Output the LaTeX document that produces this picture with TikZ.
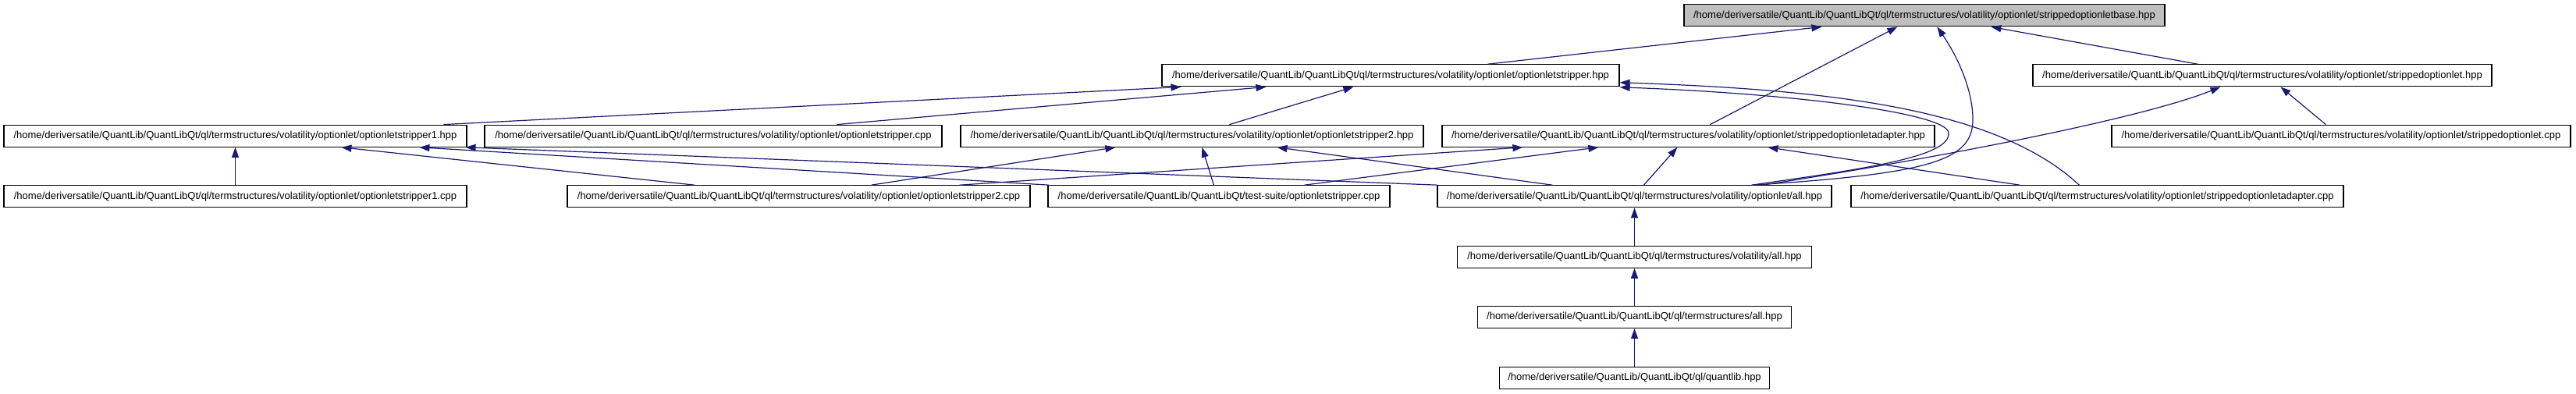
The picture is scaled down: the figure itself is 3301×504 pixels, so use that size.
\documentclass[tikz,border=0pt]{standalone}
\usepackage{fontspec}
\setmainfont{Liberation Sans}
\usetikzlibrary{arrows.meta}
\definecolor{edgeblue}{HTML}{191970}
\definecolor{focusgray}{HTML}{BFBFBF}
\begin{document}
\begin{tikzpicture}[x=1pt,y=-1pt,
  file/.style={draw=black, line width=1.2pt, fill=white, minimum height=28pt, inner sep=0pt, font=\fontsize{13}{15}\selectfont},
  focus/.style={file, fill=focusgray},
  dep/.style={draw=edgeblue, line width=1.2pt, -{Triangle[length=13pt,width=9pt,fill=edgeblue]}}
]
\useasboundingbox (0,0) rectangle (3301,504);

% row 1
\node[focus, minimum width=616pt] (base) at (2466,19.8) {/home/deriversatile/QuantLib/QuantLibQt/ql/termstructures/volatility/optionlet/strippedoptionletbase.hpp};
% row 2
\node[file, minimum width=586pt] (osHpp) at (1782,96.8) {/home/deriversatile/QuantLib/QuantLibQt/ql/termstructures/volatility/optionlet/optionletstripper.hpp};
\node[file, minimum width=588pt] (sHpp) at (2899,96.8) {/home/deriversatile/QuantLib/QuantLibQt/ql/termstructures/volatility/optionlet/strippedoptionlet.hpp};
% row 3
\node[file, minimum width=593pt] (opt1Hpp) at (301.5,174.2) {/home/deriversatile/QuantLib/QuantLibQt/ql/termstructures/volatility/optionlet/optionletstripper1.hpp};
\node[file, minimum width=586pt] (osCpp) at (914,174.2) {/home/deriversatile/QuantLib/QuantLibQt/ql/termstructures/volatility/optionlet/optionletstripper.cpp};
\node[file, minimum width=593pt] (opt2Hpp) at (1527.5,174.2) {/home/deriversatile/QuantLib/QuantLibQt/ql/termstructures/volatility/optionlet/optionletstripper2.hpp};
\node[file, minimum width=631pt] (adHpp) at (2163.5,174.2) {/home/deriversatile/QuantLib/QuantLibQt/ql/termstructures/volatility/optionlet/strippedoptionletadapter.hpp};
\node[file, minimum width=588pt] (sCpp) at (3000,174.2) {/home/deriversatile/QuantLib/QuantLibQt/ql/termstructures/volatility/optionlet/strippedoptionlet.cpp};
% row 4
\node[file, minimum width=593pt] (opt1Cpp) at (301.5,251.8) {/home/deriversatile/QuantLib/QuantLibQt/ql/termstructures/volatility/optionlet/optionletstripper1.cpp};
\node[file, minimum width=593pt] (opt2Cpp) at (1023.5,251.8) {/home/deriversatile/QuantLib/QuantLibQt/ql/termstructures/volatility/optionlet/optionletstripper2.cpp};
\node[file, minimum width=438pt] (test) at (1562,251.8) {/home/deriversatile/QuantLib/QuantLibQt/test-suite/optionletstripper.cpp};
\node[file, minimum width=505pt] (allOpt) at (2094.5,251.8) {/home/deriversatile/QuantLib/QuantLibQt/ql/termstructures/volatility/optionlet/all.hpp};
\node[file, minimum width=631pt] (adCpp) at (2687.5,251.8) {/home/deriversatile/QuantLib/QuantLibQt/ql/termstructures/volatility/optionlet/strippedoptionletadapter.cpp};
% rows 5-7
\node[file, minimum width=454pt] (volAll) at (2094.5,329.2) {/home/deriversatile/QuantLib/QuantLibQt/ql/termstructures/volatility/all.hpp};
\node[file, minimum width=402pt] (tsAll) at (2094.5,406.5) {/home/deriversatile/QuantLib/QuantLibQt/ql/termstructures/all.hpp};
\node[file, minimum width=346pt] (ql) at (2094.5,484.2) {/home/deriversatile/QuantLib/QuantLibQt/ql/quantlib.hpp};

% edges to base
\draw[dep] ([xshift=418pt]osHpp.north west) -- ([xshift=177pt]base.south west);
\draw[dep] ([xshift=344pt]adHpp.north west) -- ([xshift=274pt]base.south west);
\draw[dep] ([xshift=405pt]allOpt.north west) .. controls (2480,222) and (2530,205) .. (2528,150)
   .. controls (2527,115) and (2510,75) .. ([xshift=325pt]base.south west);
\draw[dep] ([xshift=212pt]sHpp.north west) -- ([xshift=394pt]base.south west);

% edges to optionletstripper.hpp
\draw[dep] ([xshift=564pt]opt1Hpp.north west) -- ([xshift=25pt]osHpp.south west);
\draw[dep] ([xshift=452pt]osCpp.north west) -- ([xshift=134pt]osHpp.south west);
\draw[dep] ([xshift=345pt]opt2Hpp.north west) -- ([xshift=246pt]osHpp.south west);
\draw[dep] ([xshift=403pt]allOpt.north west) .. controls (2400,215) and (2500,200) .. (2497,170)
   .. controls (2494,145) and (2300,120) .. ([yshift=-15pt]osHpp.east);
\draw[dep] ([xshift=293pt]adCpp.north west) .. controls (2560,140) and (2350,115) .. ([yshift=-9pt]osHpp.east);

% edges to strippedoptionlet.hpp
\draw[dep] ([xshift=417pt]allOpt.north west) .. controls (2500,200) and (2750,150) .. ([xshift=241pt]sHpp.south west);
\draw[dep] ([xshift=275pt]sCpp.north west) -- ([xshift=318pt]sHpp.south west);

% edges to strippedoptionletadapter.hpp
\draw[dep] ([xshift=217pt]adCpp.north west) -- ([xshift=418pt]adHpp.south west);
\draw[dep] ([xshift=503pt]opt2Cpp.north west) -- ([xshift=104pt]adHpp.south west);
\draw[dep] ([xshift=329pt]test.north west) -- ([xshift=201pt]adHpp.south west);
\draw[dep] ([xshift=265pt]allOpt.north west) -- ([xshift=302pt]adHpp.south west);

% edges to optionletstripper1.hpp
\draw[dep] (opt1Cpp.north) -- (opt1Hpp.south);
\draw[dep] ([xshift=164pt]opt2Cpp.north west) -- ([xshift=433pt]opt1Hpp.south west);
\draw[dep] ([xshift=2pt]test.north west) -- ([xshift=533pt]opt1Hpp.south west);
\draw[dep] ([xshift=1pt]allOpt.north west) -- ([xshift=-2pt]opt1Hpp.south east);

% edges to optionletstripper2.hpp
\draw[dep] ([xshift=390pt]opt2Cpp.north west) -- ([xshift=199pt]opt2Hpp.south west);
\draw[dep] ([xshift=213pt]test.north west) -- ([xshift=310pt]opt2Hpp.south west);
\draw[dep] ([xshift=148pt]allOpt.north west) -- ([xshift=406pt]opt2Hpp.south west);

% vertical chain
\draw[dep] (volAll.north) -- (allOpt.south);
\draw[dep] (tsAll.north) -- (volAll.south);
\draw[dep] (ql.north) -- (tsAll.south);
\end{tikzpicture}
\end{document}
